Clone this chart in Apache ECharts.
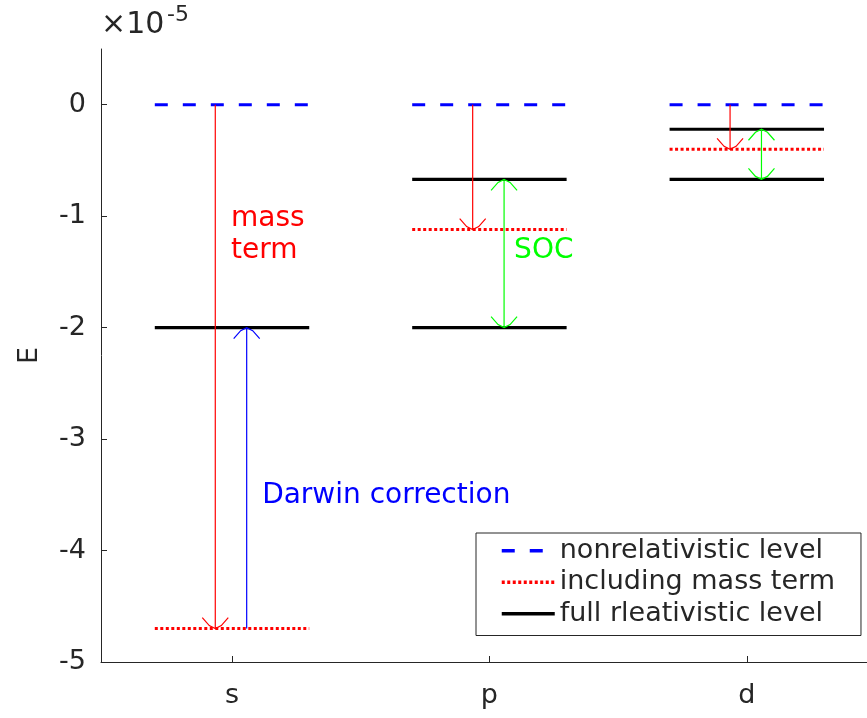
<!DOCTYPE html>
<html><head><meta charset="utf-8">
<script src="https://cdn.jsdelivr.net/npm/echarts@6/dist/echarts.min.js"></script>
<style>html,body{margin:0;padding:0;background:#fff}#c{width:867px;height:718px}</style>
</head><body><div id="c"></div>
<script>
// ---- data ----
const categories = ['s', 'p', 'd'];
const categoryPos = [1, 2, 3];
const nonrelativistic = [0, 0, 0];
const massTermLevel = [-4.7, -1.12, -0.40];
const fullUpper = [-2, -0.67, -0.22];
const fullLower = [null, -2, -0.67];
const yTicks = [-5, -4, -3, -2, -1, 0];
const legendNames = ['nonrelativistic level', 'including mass term', 'full rleativistic level'];
const annotationTexts = ['mass\nterm', 'SOC', 'Darwin correction'];
const exponentText = ['\u00d710', '-5'];

// ---- layout / style ----
const FONT = '"DejaVu Sans"';
const INK = '#262626';
const HALF = 0.3;
const RED_OFF = -0.065, ARR_OFF = 0.057;

function levelSeries(name, values, lineStyle) {
  const out = [];
  values.forEach((v, i) => {
    if (v === null) return;
    out.push({
      type: 'line', name: name, symbol: 'none', silent: true, z: 2,
      lineStyle: lineStyle, animation: false,
      data: [[categoryPos[i] - HALF, v], [categoryPos[i] + HALF, v]]
    });
  });
  return out;
}

// arrows: [x, yFrom, yTo, headAtFrom, headAtTo]
const massArrows = categoryPos.map((p, i) => [p + RED_OFF, nonrelativistic[i], massTermLevel[i], 0, 1]);
const darwinArrows = [[categoryPos[0] + ARR_OFF, massTermLevel[0], fullUpper[0], 0, 1]];
const socArrows = [];
categoryPos.forEach((p, i) => { if (fullLower[i] !== null) socArrows.push([p + ARR_OFF, fullLower[i], fullUpper[i], 1, 1]); });

function arrowSeries(data, color) {
  return {
    type: 'custom', silent: true, z: 5, animation: false,
    encode: { x: 0, y: [1, 2] },
    data: data,
    renderItem: function (params, api) {
      const x = api.value(0);
      const p0 = api.coord([x, api.value(1)]);
      const p1 = api.coord([x, api.value(2)]);
      const st = { stroke: color, lineWidth: 1.2, fill: null };
      const children = [{ type: 'line', shape: { x1: p0[0], y1: p0[1], x2: p1[0], y2: p1[1] }, style: st }];
      function head(tip, from) {
        const d = from[1] > tip[1] ? 1 : -1;
        children.push({ type: 'polyline', shape: { points: [[tip[0] - 13, tip[1] + d * 11], [tip[0] - 6, tip[1] + d * 3], [tip[0], tip[1]], [tip[0] + 6, tip[1] + d * 3], [tip[0] + 13, tip[1] + d * 11]] }, style: st });
      }
      if (api.value(3)) head(p0, p1);
      if (api.value(4)) head(p1, p0);
      return { type: 'group', children: children };
    }
  };
}

const annoPos = [[0.996, -1.17], [2.096, -1.31], [1.117, -3.51]];
const annoColor = ['#ff0000', '#00ff00', '#0000ff'];
const annoData = annotationTexts.map((t, i) => [annoPos[i][0], annoPos[i][1], i]);

const series = [].concat(
  levelSeries(legendNames[0], nonrelativistic, { color: '#0000ff', width: 3, type: [13, 15] }),
  levelSeries(legendNames[1], massTermLevel, { color: '#ff0000', width: 3, type: [3, 2.5] }),
  levelSeries(legendNames[2], fullUpper, { color: '#000000', width: 3.2, type: 'solid' }),
  levelSeries(legendNames[2], fullLower, { color: '#000000', width: 3.2, type: 'solid' }),
  [arrowSeries(massArrows, '#ff0000'), arrowSeries(darwinArrows, '#0000ff'), arrowSeries(socArrows, '#00ff00'),
   {
     type: 'custom', silent: true, z: 6, animation: false,
     encode: { x: 0, y: 1 }, data: annoData,
     renderItem: function (params, api) {
       const p = api.coord([api.value(0), api.value(1)]);
       const i = api.value(2);
       return { type: 'text', x: p[0], y: p[1], style: { text: annotationTexts[i], fill: annoColor[i], font: '28px ' + FONT, align: 'left', verticalAlign: 'middle', lineHeight: 32 } };
     }
   }]
);

const chart = echarts.init(document.getElementById('c'), null, { renderer: 'canvas' });
chart.setOption({
  backgroundColor: '#ffffff',
  animation: false,
  grid: { left: 101, right: 0, top: 49, bottom: 56, containLabel: false },
  xAxis: {
    type: 'value', min: 0.491, max: 3.467,
    axisLine: { show: true, onZero: false, lineStyle: { color: INK, width: 1 } },
    axisTick: { show: true, inside: true, length: 6, customValues: categoryPos, lineStyle: { color: INK } },
    axisLabel: { show: true, customValues: categoryPos, margin: 20, color: INK, fontSize: 27, fontFamily: FONT,
      formatter: v => categories[categoryPos.indexOf(v)] },
    splitLine: { show: false }
  },
  yAxis: {
    type: 'value', min: -5, max: 0.5,
    name: 'E', nameLocation: 'middle', nameGap: 58, nameRotate: 90,
    nameTextStyle: { color: INK, fontSize: 27, fontFamily: FONT },
    axisLine: { show: true, onZero: false, lineStyle: { color: INK, width: 1 } },
    axisTick: { show: true, inside: true, length: 6, customValues: yTicks, lineStyle: { color: INK } },
    axisLabel: { show: true, customValues: yTicks, margin: 15, color: INK, fontSize: 27, fontFamily: FONT,
      formatter: v => String(v) },
    splitLine: { show: false }
  },
  legend: {
    show: true, orient: 'vertical', left: 476, top: 533,
    itemWidth: 53, itemHeight: 14, itemGap: 0,
    padding: [2, 26, 6, 24],
    backgroundColor: '#ffffff', borderColor: INK, borderWidth: 1, borderRadius: 0,
    textStyle: { fontSize: 27, color: INK, fontFamily: FONT, lineHeight: 31.5 },
    itemStyle: { opacity: 0 },
    lineStyle: { width: 3.5 },
    selectedMode: false,
    data: legendNames
  },
  graphic: [
    { type: 'text', left: 101, top: 10, style: { text: exponentText[0], font: '30px ' + FONT, fill: INK } },
    { type: 'text', left: 167, top: 4, style: { text: exponentText[1], font: '22px ' + FONT, fill: INK } }
  ],
  series: series
});
</script>
</body></html>
